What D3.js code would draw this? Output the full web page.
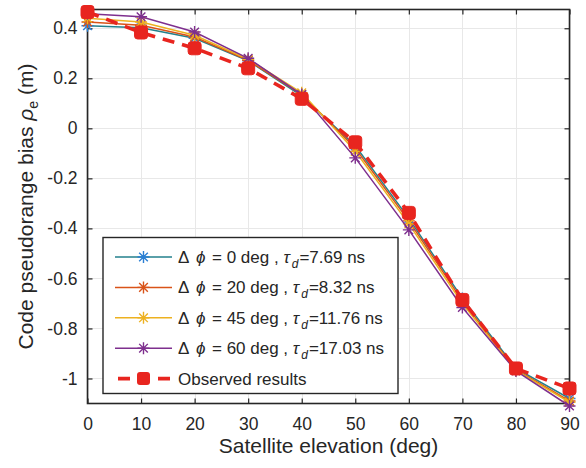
<!DOCTYPE html>
<html>
<head>
<meta charset="utf-8">
<script src="https://cdn.jsdelivr.net/npm/d3@7"></script>
<style>
  body { margin: 0; background: #fff; }
  svg { display: block; }
  text { font-family: "Liberation Sans", Arial, sans-serif; fill: #262626; }
</style>
</head>
<body>
<svg id="chart" width="586" height="468"></svg>
<script>
// Satellite elevation (deg) and code pseudorange bias (m) per phase shift
const elevation = [0, 10, 20, 30, 40, 50, 60, 70, 80, 90];
const biasPhi0  = [0.410, 0.402, 0.360, 0.270, 0.130, -0.070, -0.360, -0.680, -0.960, -1.080];
const biasPhi20 = [0.425, 0.412, 0.365, 0.272, 0.135, -0.080, -0.370, -0.690, -0.965, -1.090];
const biasPhi45 = [0.440, 0.425, 0.372, 0.276, 0.142, -0.092, -0.382, -0.700, -0.968, -1.095];
const biasPhi60 = [0.458, 0.446, 0.385, 0.280, 0.135, -0.118, -0.406, -0.716, -0.970, -1.110];
const observed  = [0.465, 0.383, 0.320, 0.240, 0.118, -0.056, -0.338, -0.686, -0.960, -1.040];

const phaseShift = [0, 20, 45, 60];
const delayTau = ["7.69", "8.32", "11.76", "17.03"];
const xTicks = [0, 10, 20, 30, 40, 50, 60, 70, 80, 90];
const yTicks = [-1, -0.8, -0.6, -0.4, -0.2, 0, 0.2, 0.4];

const lineColors   = ["#23808c", "#d95319", "#edb120", "#7e2f8e"];
const markerColors = ["#2b7fd4", "#d95319", "#edb120", "#7e2f8e"];
const obsColor = "#e8251f";

const svg = d3.select("#chart");
const plotLeft = 87.5, plotRight = 569.5, plotTop = 9.5, plotBottom = 403.5;

const x = d3.scaleLinear().domain([0, 90]).range([plotLeft, plotRight]);
const y = d3.scaleLinear().domain([-1.1, 0.475]).range([plotBottom, plotTop]);

// grid
const grid = svg.append("g").attr("stroke", "#e8e8e8").attr("stroke-width", 1);
xTicks.forEach(t => grid.append("line")
  .attr("x1", Math.round(x(t)) + 0.5).attr("x2", Math.round(x(t)) + 0.5)
  .attr("y1", plotTop).attr("y2", plotBottom));
yTicks.forEach(t => grid.append("line")
  .attr("y1", Math.round(y(t)) + 0.5).attr("y2", Math.round(y(t)) + 0.5)
  .attr("x1", plotLeft).attr("x2", plotRight));

// axes with inward ticks on all four sides
const axisStyle = g => {
  g.select(".domain").remove();
  g.selectAll(".tick line").attr("stroke", "#262626").attr("stroke-width", 1.2);
  g.selectAll(".tick text").attr("font-size", 17.5).attr("fill", "#262626")
    .style("font-family", '"Liberation Sans", Arial, sans-serif');
};
svg.append("g").attr("transform", `translate(0,${plotBottom})`)
  .call(d3.axisBottom(x).tickValues(xTicks).tickSizeInner(-5).tickSizeOuter(0).tickPadding(14).tickFormat(d3.format("d")))
  .call(axisStyle);
svg.append("g").attr("transform", `translate(0,${plotTop})`)
  .call(d3.axisTop(x).tickValues(xTicks).tickSizeInner(-5).tickSizeOuter(0).tickFormat(""))
  .call(axisStyle);
svg.append("g").attr("transform", `translate(${plotLeft},0)`)
  .call(d3.axisLeft(y).tickValues(yTicks).tickSizeInner(-5).tickSizeOuter(0).tickPadding(10)
    .tickFormat(d => d === 0 ? "0" : String(+d.toFixed(1))))
  .call(axisStyle);
svg.append("g").attr("transform", `translate(${plotRight},0)`)
  .call(d3.axisRight(y).tickValues(yTicks).tickSizeInner(-5).tickSizeOuter(0).tickFormat(""))
  .call(axisStyle);

svg.append("rect").attr("x", plotLeft).attr("y", plotTop)
  .attr("width", plotRight - plotLeft).attr("height", plotBottom - plotTop)
  .attr("fill", "none").attr("stroke", "#262626").attr("stroke-width", 1.6);

// asterisk marker
const star = r => {
  const d = r * 0.72;
  return `M${-r},0L${r},0M0,${-r}L0,${r}M${-d},${-d}L${d},${d}M${-d},${d}L${d},${-d}`;
};

const plot = svg.append("g");
const line = d3.line().x((d, i) => x(elevation[i])).y(d => y(d));
const series = [biasPhi0, biasPhi20, biasPhi45, biasPhi60];

series.forEach((vals, k) => {
  plot.append("path").attr("d", line(vals))
    .attr("fill", "none").attr("stroke", lineColors[k]).attr("stroke-width", 1.5);
  plot.selectAll(null).data(vals).enter().append("path")
    .attr("transform", (d, i) => `translate(${x(elevation[i])},${y(d)})`)
    .attr("d", star(6)).attr("stroke", markerColors[k]).attr("stroke-width", 1.4).attr("fill", "none");
});

plot.append("path").attr("d", line(observed))
  .attr("fill", "none").attr("stroke", obsColor).attr("stroke-width", 3.6)
  .attr("stroke-dasharray", "12,8");
plot.selectAll(null).data(observed).enter().append("rect")
  .attr("x", (d, i) => x(elevation[i]) - 6.5).attr("y", d => y(d) - 6.5)
  .attr("width", 13).attr("height", 13).attr("rx", 3)
  .attr("fill", obsColor).attr("stroke", obsColor).attr("stroke-width", 1);

// axis titles
svg.append("text").attr("x", (plotLeft + plotRight) / 2).attr("y", 453)
  .attr("text-anchor", "middle").attr("font-size", 21).text("Satellite elevation (deg)");

const yt = svg.append("text").attr("transform", `translate(33,${(plotTop + plotBottom) / 2}) rotate(-90)`)
  .attr("text-anchor", "middle").attr("font-size", 21);
yt.append("tspan").text("Code pseudorange bias ");
yt.append("tspan").attr("font-style", "italic").text("ρ");
yt.append("tspan").attr("font-size", 14).attr("dy", 5).text("e");
yt.append("tspan").attr("dy", -5).text(" (m)");

// legend
const lg = svg.append("g");
lg.append("rect").attr("x", 103).attr("y", 237.5).attr("width", 295).attr("height", 156)
  .attr("fill", "#fff").attr("stroke", "#262626").attr("stroke-width", 1.4);
const rowY = i => 257 + i * 30.4;
phaseShift.forEach((p, i) => {
  const yy = rowY(i);
  lg.append("line").attr("x1", 115).attr("x2", 172).attr("y1", yy).attr("y2", yy)
    .attr("stroke", lineColors[i]).attr("stroke-width", 1.5);
  lg.append("path").attr("transform", `translate(143.5,${yy})`).attr("d", star(6))
    .attr("stroke", markerColors[i]).attr("stroke-width", 1.4).attr("fill", "none");
  const t = lg.append("text").attr("y", yy + 6).attr("font-size", 17);
  t.append("tspan").attr("x", 178).text("Δ");
  t.append("tspan").attr("x", 196).attr("font-style", "italic").text("ϕ");
  t.append("tspan").attr("x", 212).text(`= ${p} deg , `);
  t.append("tspan").attr("font-style", "italic").text("τ");
  t.append("tspan").attr("font-size", 12).attr("dx", 2).attr("dy", 5).attr("font-style", "italic").text("d");
  t.append("tspan").attr("dx", 1).attr("dy", -5).text(`=${delayTau[i]} ns`);
});
{
  const yy = rowY(4);
  lg.append("line").attr("x1", 115).attr("x2", 172).attr("y1", yy).attr("y2", yy)
    .attr("stroke", obsColor).attr("stroke-width", 3.6).attr("stroke-dasharray", "12,8").attr("stroke-dashoffset", -3);
  lg.append("rect").attr("x", 137).attr("y", yy - 6.5).attr("width", 13).attr("height", 13).attr("rx", 3)
    .attr("fill", obsColor);
  lg.append("text").attr("x", 178).attr("y", yy + 6).attr("font-size", 17).text("Observed results");
}
</script>
</body>
</html>
